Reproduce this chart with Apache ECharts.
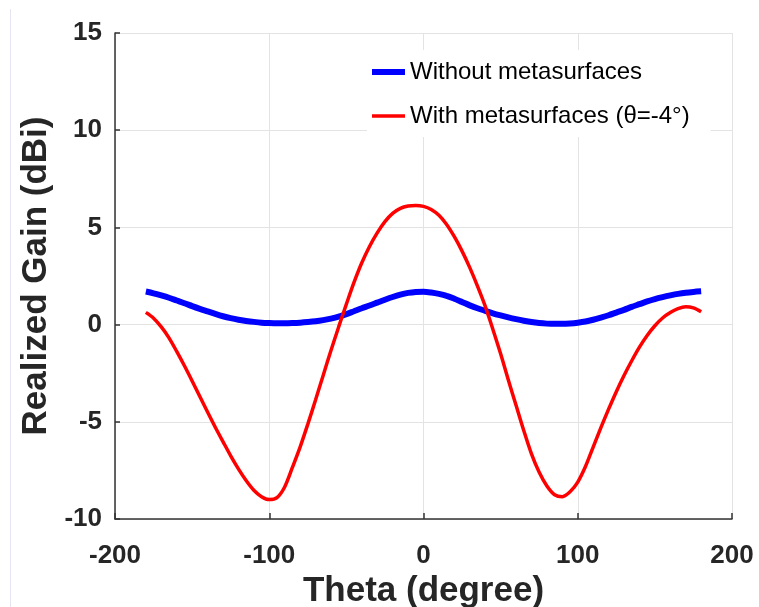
<!DOCTYPE html>
<html>
<head>
<meta charset="utf-8">
<script src="https://cdn.jsdelivr.net/npm/echarts@6/dist/echarts.min.js"></script>
<style>html,body{margin:0;padding:0;background:#fff;}#c{width:759px;height:607px;}</style>
</head>
<body>
<div id="c"></div>
<script>
// Theta (degree), every 5 degrees from -180 to 180
var theta = [-180,-175,-170,-165,-160,-155,-150,-145,-140,-135,-130,-125,-120,-115,-110,-105,-100,-95,-90,-85,-80,-75,-70,-65,-60,-55,-50,-45,-40,-35,-30,-25,-20,-15,-10,-5,0,5,10,15,20,25,30,35,40,45,50,55,60,65,70,75,80,85,90,95,100,105,110,115,120,125,130,135,140,145,150,155,160,165,170,175,180];
var gainWithout = [1.70,1.61,1.50,1.38,1.24,1.10,0.95,0.81,0.68,0.55,0.43,0.33,0.25,0.19,0.14,0.10,0.08,0.07,0.07,0.08,0.10,0.13,0.17,0.23,0.31,0.41,0.54,0.69,0.84,0.98,1.13,1.28,1.42,1.54,1.63,1.68,1.69,1.65,1.58,1.48,1.33,1.16,0.99,0.84,0.71,0.58,0.47,0.37,0.28,0.20,0.13,0.08,0.05,0.04,0.04,0.06,0.10,0.16,0.25,0.36,0.48,0.62,0.76,0.91,1.05,1.19,1.31,1.41,1.50,1.58,1.64,1.68,1.71];
var gainWith = [0.63,0.33,-0.12,-0.68,-1.38,-2.12,-2.90,-3.70,-4.50,-5.28,-6.02,-6.75,-7.42,-8.02,-8.52,-8.85,-9.00,-8.90,-8.35,-7.35,-6.30,-5.12,-3.88,-2.60,-1.33,-0.12,1.05,2.18,3.18,4.02,4.72,5.30,5.72,5.98,6.10,6.13,6.08,5.92,5.62,5.15,4.52,3.78,2.93,1.98,0.95,-0.25,-1.50,-2.85,-4.15,-5.45,-6.65,-7.60,-8.30,-8.75,-8.85,-8.60,-8.10,-7.30,-6.30,-5.30,-4.35,-3.45,-2.62,-1.86,-1.16,-0.56,-0.06,0.34,0.62,0.82,0.92,0.86,0.66];

var xTicks = {min: -200, max: 200, interval: 100};
var yTicks = {min: -10, max: 15, interval: 5};
var seriesNames = ['Without metasurfaces', 'With metasurfaces (θ=-4°)'];
var xName = 'Theta (degree)';
var yName = 'Realized Gain (dBi)';

function pairs(xs, ys) { return xs.map(function (x, i) { return [x, ys[i]]; }); }

var FONT = '"Liberation Sans", Arial, Helvetica, sans-serif';
var TXT = '#262626';
var chart = echarts.init(document.getElementById('c'), null, {renderer: 'canvas'});
chart.setOption({
  backgroundColor: '#ffffff',
  animation: false,
  graphic: [{
    type: 'line', shape: {x1: 10.5, y1: 9, x2: 10.5, y2: 607},
    style: {stroke: '#e6e6f2', lineWidth: 1}, silent: true
  }],
  grid: {left: 115, right: 27, top: 33, bottom: 88, containLabel: false, outerBoundsMode: 'none'},
  legend: {
    orient: 'vertical',
    left: 367, top: 50,
    padding: [10, 21, 9, 5],
    backgroundColor: '#ffffff',
    itemWidth: 33, itemHeight: 6, itemGap: 20,
    textStyle: {fontFamily: FONT, fontSize: 24, color: '#000000'},
    data: [
      {name: seriesNames[0], icon: 'rect'},
      {name: seriesNames[1], icon: 'path://M0,0 L0.01,0 L0.01,0.01 Z M0,1.25 L33,1.25 L33,4.75 L0,4.75 Z M0,6 L0.01,6 L0.01,5.99 Z'}
    ]
  },
  xAxis: {
    type: 'value', min: xTicks.min, max: xTicks.max, interval: xTicks.interval,
    name: xName, nameLocation: 'middle', nameGap: 44,
    nameTextStyle: {fontFamily: FONT, fontSize: 35, fontWeight: 'bold', color: TXT},
    axisLine: {show: true, onZero: false, lineStyle: {color: '#333333', width: 1.5}},
    axisTick: {show: true, inside: true, length: 6, lineStyle: {color: '#333333', width: 1.5}},
    axisLabel: {margin: 24, fontFamily: FONT, fontSize: 26, fontWeight: 'bold', color: TXT},
    splitLine: {show: true, lineStyle: {color: '#e3e3e3', width: 1}}
  },
  yAxis: {
    type: 'value', min: yTicks.min, max: yTicks.max, interval: yTicks.interval,
    name: yName, nameLocation: 'middle', nameGap: 57, nameRotate: 90,
    nameTextStyle: {fontFamily: FONT, fontSize: 35, fontWeight: 'bold', color: TXT},
    axisLine: {show: true, onZero: false, lineStyle: {color: '#333333', width: 1.5}},
    axisTick: {show: true, inside: true, length: 5, lineStyle: {color: '#333333', width: 1.5}},
    axisLabel: {margin: 13, fontFamily: FONT, fontSize: 26, fontWeight: 'bold', color: TXT},
    splitLine: {show: true, lineStyle: {color: '#e3e3e3', width: 1}}
  },
  series: [{
    name: seriesNames[0], type: 'line', data: pairs(theta, gainWithout),
    smooth: 0.3, symbol: 'none', color: '#0000ff',
    lineStyle: {color: '#0000ff', width: 6}
  }, {
    name: seriesNames[1], type: 'line', data: pairs(theta, gainWith),
    smooth: 0.3, symbol: 'none', color: '#ff0000',
    lineStyle: {color: '#ff0000', width: 3.5}
  }]
});
</script>
</body>
</html>
